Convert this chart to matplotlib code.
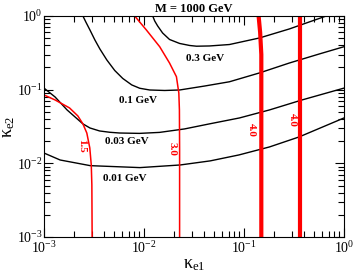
import matplotlib
matplotlib.use('Agg')
import matplotlib.pyplot as plt
from matplotlib.ticker import LogLocator, LogFormatterMathtext, NullFormatter

plt.rcParams['font.family'] = 'Liberation Serif'
plt.rcParams['mathtext.fontset'] = 'custom'
plt.rcParams['mathtext.rm'] = 'Liberation Serif'
plt.rcParams['mathtext.it'] = 'Liberation Serif'
plt.rcParams['mathtext.bf'] = 'Liberation Serif:bold'

# ── Contour lines (black) ────────────────────────────────────
c001_x = [0.001, 0.00145, 0.0029, 0.0091, 0.023, 0.046, 0.089, 0.18, 0.355, 1.0]
c001_y = [0.0138, 0.0111, 0.0093, 0.00875, 0.0095, 0.0108, 0.0130, 0.0167, 0.0228, 0.0413]

c003_x = [0.001, 0.00129, 0.0017, 0.00245, 0.00288, 0.0036, 0.00455, 0.0057, 0.0090,
          0.0143, 0.0254, 0.045, 0.090, 0.18, 0.38, 1.0]
c003_y = [0.105, 0.0796, 0.0531, 0.0343, 0.0302, 0.0275, 0.0264, 0.0258, 0.0255,
          0.0263, 0.0293, 0.0343, 0.0413, 0.0531, 0.0725, 0.105]

c01_x = [0.00245, 0.00262, 0.00288, 0.00323, 0.00362, 0.00425, 0.0051, 0.00613,
         0.00754, 0.00906, 0.0114, 0.0161, 0.0227, 0.0403, 0.0715, 0.1425, 0.284,
         0.565, 1.0]
c01_y = [1.0, 0.829, 0.646, 0.472, 0.357, 0.253, 0.182, 0.142,
         0.116, 0.1045, 0.099, 0.0975, 0.099, 0.112, 0.128, 0.1686, 0.230,
         0.305, 0.383]

c03_x = [0.01222, 0.0128, 0.0137, 0.01535, 0.0180, 0.0227, 0.0286, 0.0335,
         0.0452, 0.0715, 0.1425, 0.284, 0.664]
c03_y = [1.0, 0.855, 0.732, 0.588, 0.480, 0.424, 0.398, 0.389,
         0.392, 0.410, 0.503, 0.667, 1.0]

# ── Red curves ───────────────────────────────────────────────
r15_x = [0.001, 0.00129, 0.0018, 0.00218, 0.00245, 0.00268, 0.00287, 0.00297, 0.00301, 0.00303]
r15_y = [0.0848, 0.0725, 0.0565, 0.0440, 0.0343, 0.0258, 0.0162, 0.0095, 0.0051, 0.001]

r30_x = [0.00807, 0.01056, 0.01435, 0.0180, 0.0211, 0.0223, 0.0226, 0.0227, 0.0227]
r30_y = [1.0, 0.646, 0.383, 0.230, 0.150, 0.090, 0.0531, 0.0152, 0.001]

r40a_x = [0.140, 0.145, 0.149, 0.149]
r40a_y = [1.0, 0.6, 0.3, 0.001]

r40b_x = [0.365, 0.365]
r40b_y = [1.0, 0.001]

fig = plt.figure(figsize=(3.54, 2.76), dpi=100)
ax = fig.add_axes([44/354, 39/276, 300/354, 221/276])

for xs, ys in [(c001_x, c001_y), (c003_x, c003_y), (c01_x, c01_y), (c03_x, c03_y)]:
    ax.plot(xs, ys, color='black', linewidth=1.0)

ax.plot(r15_x, r15_y, color='red', linewidth=1.1)
ax.plot(r30_x, r30_y, color='red', linewidth=1.1)
ax.plot(r40a_x, r40a_y, color='red', linewidth=3.0)
ax.plot(r40b_x, r40b_y, color='red', linewidth=3.0)

ax.set_xscale('log')
ax.set_yscale('log')
ax.set_xlim(1e-3, 1)
ax.set_ylim(1e-3, 1)

# contour labels
lab = dict(fontsize=8, fontweight='bold', ha='center', va='center')
ax.text(0.0412, 0.269, '0.3 GeV', **lab)
ax.text(0.00865, 0.0703, '0.1 GeV', **lab)
ax.text(0.00673, 0.0195, '0.03 GeV', **lab)
ax.text(0.00643, 0.00614, '0.01 GeV', **lab)

rlab = dict(fontsize=8, fontweight='bold', ha='center', va='center', color='red', rotation=-90)
ax.text(0.00239, 0.0172, '1.5', **rlab)
ax.text(0.0189, 0.0157, '3.0', **rlab)
ax.text(0.1186, 0.0284, '4.0', **rlab)
ax.text(0.304, 0.0388, '4.0', **rlab)

for axis in (ax.xaxis, ax.yaxis):
    axis.set_major_locator(LogLocator(base=10, numticks=10))
    axis.set_minor_locator(LogLocator(base=10, subs=range(2, 10), numticks=10))
    axis.set_major_formatter(LogFormatterMathtext())
    axis.set_minor_formatter(NullFormatter())

ax.tick_params(which='both', direction='in', top=True, right=True, labelsize=10)
ax.tick_params(axis='x', which='major', length=6.5, width=0.8, pad=2)
ax.tick_params(axis='y', which='major', length=6.5, width=0.8, pad=1)
ax.tick_params(which='minor', length=4, width=0.8)

ax.set_xlabel(r'$\kappa_{\rm e1}$', fontsize=13, labelpad=0)
ax.set_ylabel(r'$\kappa_{\rm e2}$', fontsize=13, labelpad=0)
ax.set_title('M = 1000 GeV', fontsize=9, fontweight='bold', pad=3)

plt.savefig('out.png', dpi=100)
plt.close()
print("Saved out.png")
